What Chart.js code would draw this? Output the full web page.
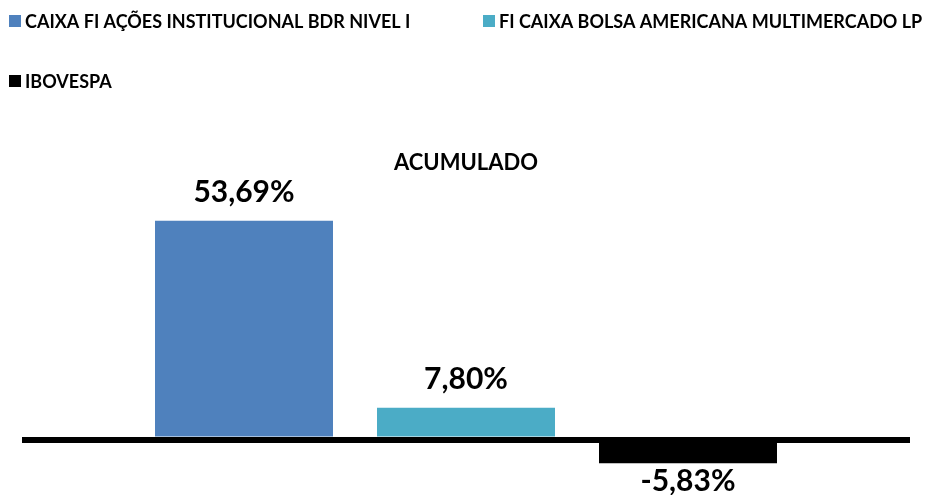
<!DOCTYPE html>
<html>
<head>
<meta charset="utf-8">
<script src="https://cdn.jsdelivr.net/npm/chart.js@4/dist/chart.umd.min.js"></script>
<style>
  html, body { margin: 0; padding: 0; background: #fff; }
  #wrap { width: 934px; height: 495px; position: relative; }
</style>
</head>
<body>
<div id="wrap"><canvas id="chart"></canvas></div>
<script>
// Data
const categories = ['ACUMULADO'];
const seriesNames = [
  'CAIXA FI AÇÕES INSTITUCIONAL BDR NIVEL I',
  'FI CAIXA BOLSA AMERICANA MULTIMERCADO LP',
  'IBOVESPA'
];
const seriesValues = [53.69, 7.80, -5.83];
const seriesColors = ['#4F81BD', '#4BACC6', '#000000'];

const FONT = 'Lato, "Liberation Sans", sans-serif';

// Legend drawn on canvas (Excel style: two items on first row, one on second)
const legendSlots = [
  { x: 9, y: 21 },
  { x: 483, y: 21 },
  { x: 9, y: 81 }
];
const legendPlugin = {
  id: 'excelLegend',
  afterDraw(chart) {
    const ctx = chart.ctx;
    ctx.save();
    ctx.font = 'bold 18px ' + FONT;
    ctx.textBaseline = 'middle';
    ctx.textAlign = 'left';
    chart.data.datasets.forEach((ds, i) => {
      const s = legendSlots[i];
      ctx.fillStyle = ds.backgroundColor;
      ctx.fillRect(s.x, s.y - 6, 12, 12);
      ctx.fillStyle = '#000';
      ctx.fillText(ds.label, s.x + 16, s.y + 1);
    });
    ctx.restore();
  }
};

// Value labels above / below bars
const valueLabels = {
  id: 'valueLabels',
  afterDatasetsDraw(chart) {
    const ctx = chart.ctx;
    ctx.save();
    ctx.font = 'bold 30px ' + FONT;
    ctx.fillStyle = '#000';
    ctx.textAlign = 'center';
    chart.data.datasets.forEach((ds, i) => {
      chart.getDatasetMeta(i).data.forEach((bar, j) => {
        const v = ds.data[j];
        const txt = v.toFixed(2).replace('.', ',') + '%';
        if (v >= 0) {
          ctx.textBaseline = 'alphabetic';
          ctx.fillText(txt, bar.x, bar.y - 19);
        } else {
          ctx.textBaseline = 'top';
          ctx.fillText(txt, bar.x, bar.y + 3);
        }
      });
    });
    ctx.restore();
  }
};

new Chart(document.getElementById('chart'), {
  type: 'bar',
  data: {
    labels: categories,
    datasets: seriesNames.map((name, i) => ({
      label: name,
      data: [seriesValues[i]],
      backgroundColor: seriesColors[i],
      borderWidth: 0,
      categoryPercentage: 0.75,
      barPercentage: 0.8018
    }))
  },
  options: {
    responsive: true,
    maintainAspectRatio: false,
    animation: false,
    layout: {
      padding: { top: 146, left: 22, right: 24, bottom: 0 }
    },
    plugins: {
      legend: { display: false },
      tooltip: { enabled: false }
    },
    scales: {
      x: {
        position: 'top',
        grid: { display: false, drawTicks: false },
        border: { display: false },
        ticks: {
          color: '#000',
          padding: 4,
          font: { family: FONT, size: 22, weight: 'bold' }
        }
      },
      y: {
        min: -13.6,
        max: 63.6,
        grid: {
          drawTicks: false,
          color: ctx => ctx.tick && ctx.tick.value === 0 ? '#000' : 'rgba(0,0,0,0)',
          lineWidth: ctx => ctx.tick && ctx.tick.value === 0 ? 6 : 0
        },
        border: { display: false },
        ticks: { display: false, stepSize: 10 }
      }
    }
  },
  plugins: [legendPlugin, valueLabels]
});
</script>
</body>
</html>
